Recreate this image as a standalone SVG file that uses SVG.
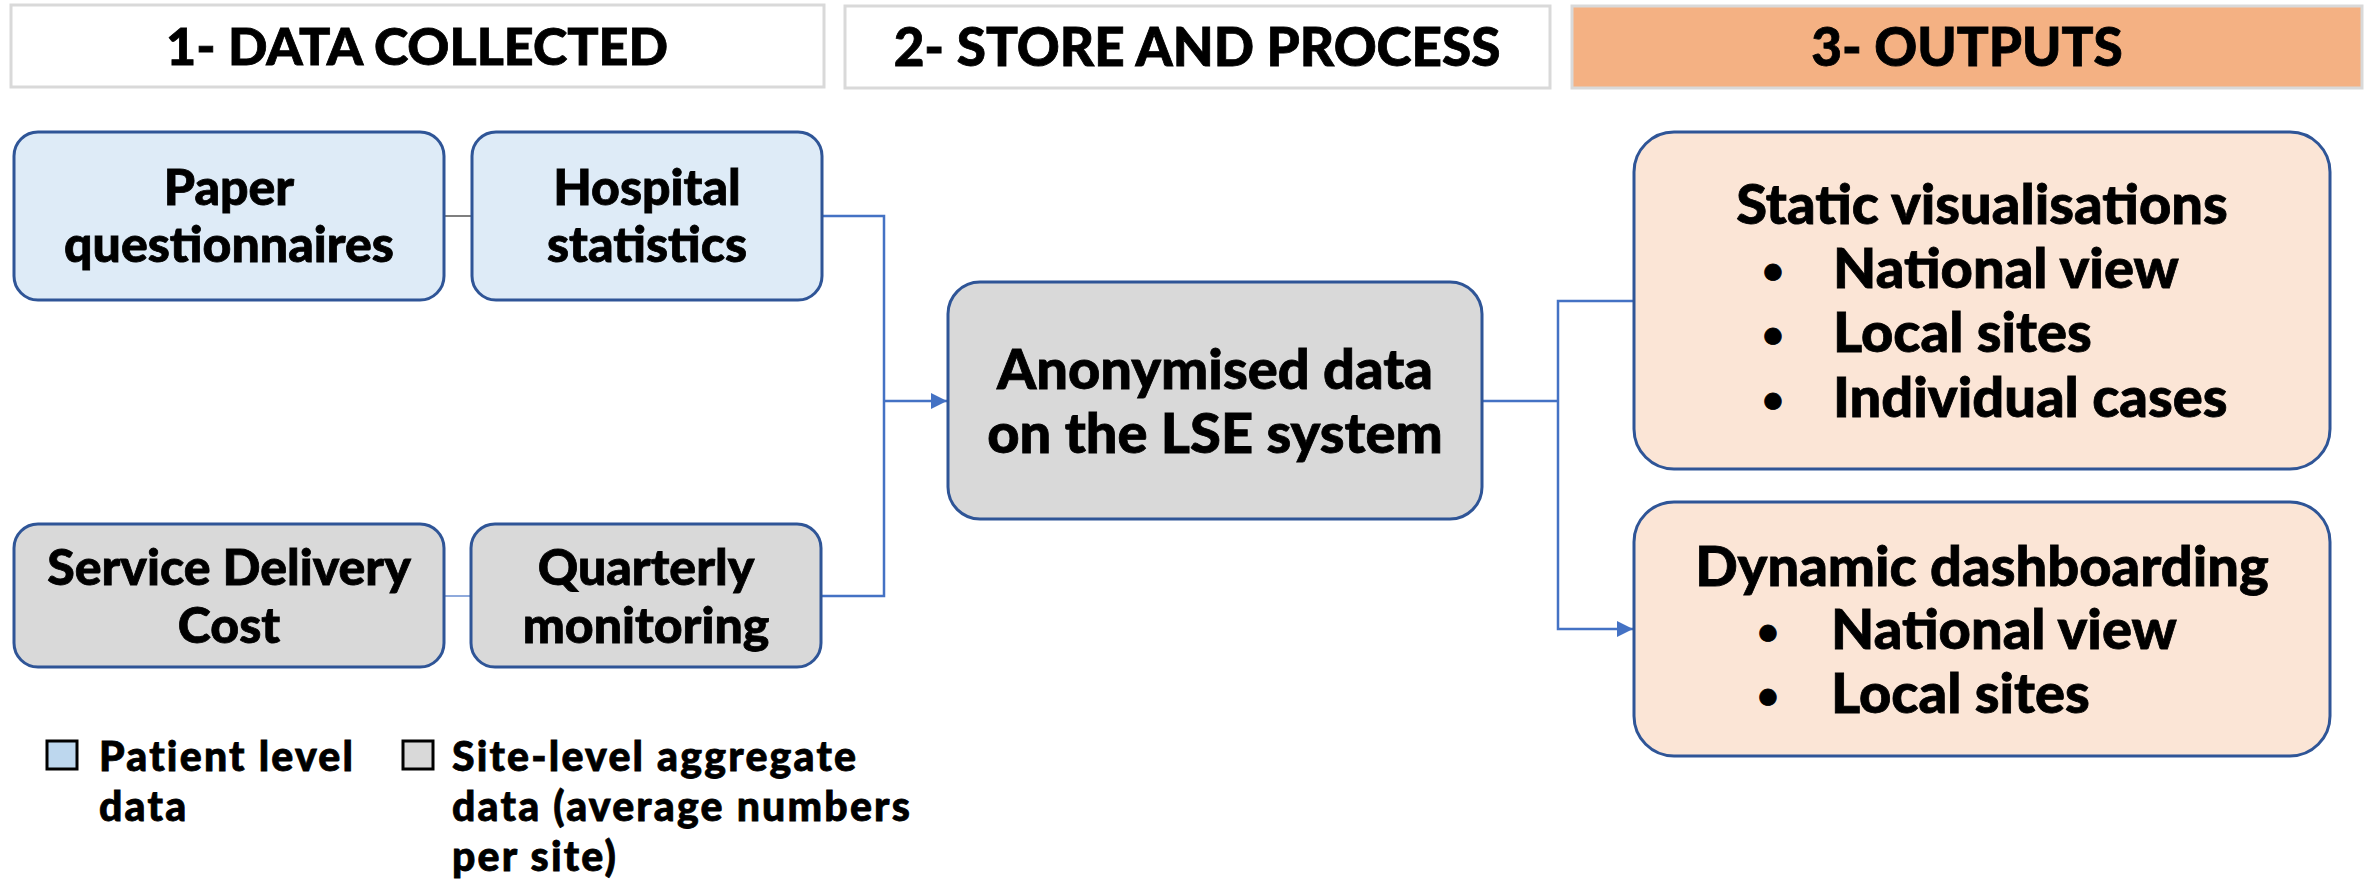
<svg xmlns="http://www.w3.org/2000/svg" width="2374" height="883" viewBox="0 0 2374 883">
<defs>
<style>
text{font-family:Lato,"Open Sans","Liberation Sans",sans-serif;font-weight:900;fill:#000;stroke:#000;stroke-width:0.8px}
.hdr{fill:#fff;stroke:#d9d9d9;stroke-width:3}
.hdr3{fill:#f4b183;stroke:#d9d9d9;stroke-width:3}
.blue{fill:#deebf7;stroke:#2f5597;stroke-width:3}
.gray{fill:#d9d9d9;stroke:#2f5597;stroke-width:3}
.peach{fill:#fbe5d6;stroke:#2f5597;stroke-width:3}
.ht{font-size:52px;text-anchor:middle}
.nt{font-size:50px;text-anchor:middle}
.ct{font-size:56px;text-anchor:middle}
.ot{font-size:56px}
.bu{font-size:36px;text-anchor:middle}
.lt{font-size:41px;letter-spacing:2.2px}
.conn{fill:none;stroke:#4472c4;stroke-width:2.5}
</style>
<marker id="arr" viewBox="0 0 10 10" refX="10" refY="5" markerWidth="16" markerHeight="16" markerUnits="userSpaceOnUse" orient="auto">
<path d="M0,0 L10,5 L0,10 z" fill="#4472c4"/>
</marker>
</defs>
<g id="headers">
<g id="h1"><rect class="hdr" x="11" y="5" width="813" height="82"/><text class="ht" x="417" y="65">1- DATA COLLECTED</text></g>
<g id="h2"><rect class="hdr" x="845" y="6" width="705" height="82"/><text class="ht" x="1197" y="66" style="font-size:53px">2- STORE AND PROCESS</text></g>
<g id="h3"><rect class="hdr3" x="1572" y="6" width="790" height="82"/><text class="ht" x="1967" y="66" style="font-size:53px">3- OUTPUTS</text></g>
</g>
<g id="connectors">
<line x1="444" y1="216" x2="472" y2="216" stroke="#7f7f7f" stroke-width="2"/>
<line x1="444" y1="596" x2="471" y2="596" stroke="#8faadc" stroke-width="2"/>
<polyline class="conn" points="822,216 884,216 884,596 821,596"/>
<line class="conn" x1="884" y1="401" x2="947" y2="401" marker-end="url(#arr)"/>
<line class="conn" x1="1482" y1="401" x2="1558" y2="401"/>
<polyline class="conn" points="1633,301 1558,301 1558,629 1633,629" marker-end="url(#arr)" marker-start="url(#arr)"/>
</g>
<g id="paper"><rect class="blue" x="14" y="132" width="430" height="168" rx="24"/><text class="nt" x="229" y="205">Paper</text><text class="nt" x="229" y="262">questionnaires</text></g>
<g id="hospital"><rect class="blue" x="472" y="132" width="350" height="168" rx="24"/><text class="nt" x="647" y="205">Hospital</text><text class="nt" x="647" y="262">statistics</text></g>
<g id="service"><rect class="gray" x="14" y="524" width="430" height="143" rx="24"/><text class="nt" x="229" y="585">Service Delivery</text><text class="nt" x="229" y="643">Cost</text></g>
<g id="quarterly"><rect class="gray" x="471" y="524" width="350" height="143" rx="24"/><text class="nt" x="646" y="585">Quarterly</text><text class="nt" x="646" y="643">monitoring</text></g>
<g id="anon"><rect class="gray" x="948" y="282" width="534" height="237" rx="32"/><text class="ct" x="1215" y="389">Anonymised data</text><text class="ct" x="1215" y="453">on the LSE system</text></g>
<g id="static"><rect class="peach" x="1634" y="132" width="696" height="337" rx="40"/>
<text class="ot" x="1982" y="224" text-anchor="middle">Static visualisations</text>
<text class="bu" x="1773" y="283">•</text><text class="ot" x="1833" y="288">National view</text>
<text class="bu" x="1773" y="347">•</text><text class="ot" x="1833" y="352">Local sites</text>
<text class="bu" x="1773" y="412">•</text><text class="ot" x="1833" y="417">Individual cases</text>
</g>
<g id="dynamic"><rect class="peach" x="1634" y="502" width="696" height="254" rx="40"/>
<text class="ot" x="1982" y="586" text-anchor="middle">Dynamic dashboarding</text>
<text class="bu" x="1768" y="644">•</text><text class="ot" x="1831" y="649">National view</text>
<text class="bu" x="1768" y="708">•</text><text class="ot" x="1831" y="713">Local sites</text>
</g>
<g id="legend">
<rect x="47" y="741" width="30" height="28" fill="#bdd7ee" stroke="#000" stroke-width="3"/>
<text class="lt" x="99" y="771">Patient level</text><text class="lt" x="99" y="821">data</text>
<rect x="403" y="741" width="30" height="28" fill="#d9d9d9" stroke="#000" stroke-width="3"/>
<text class="lt" x="452" y="771">Site-level aggregate</text><text class="lt" x="452" y="821">data (average numbers</text><text class="lt" x="452" y="871">per site)</text>
</g>
</svg>
